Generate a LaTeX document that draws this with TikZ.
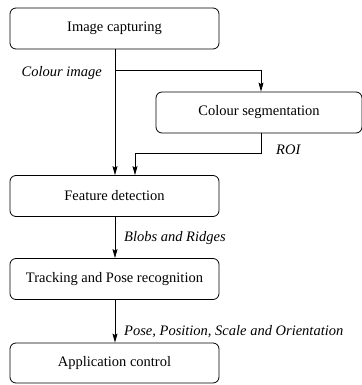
\documentclass[tikz,border=0pt]{standalone}
\usepackage{fontspec}
\setmainfont{Liberation Serif}
\usetikzlibrary{arrows.meta}
\begin{document}
\begin{tikzpicture}[x=1pt,y=-1pt,
  stepbox/.style={draw, rounded corners=6pt, minimum height=41pt, inner sep=0pt, line width=0.8pt, font=\fontsize{14.5}{17}\selectfont},
  arr/.style={line width=0.8pt, -{Stealth[length=9pt,width=5pt,inset=1.5pt]}},
  lab/.style={font=\fontsize{14.5}{17}\selectfont\itshape, inner sep=0pt}]
\useasboundingbox (0,0) rectangle (361,385);
\node[stepbox, minimum width=209pt] (ic) at (114.5,28.5) {Image capturing};
\node[stepbox, minimum width=206pt] (cs) at (259,112.5) {Colour segmentation};
\node[stepbox, minimum width=209pt] (fd) at (114.5,196) {Feature detection};
\node[stepbox, minimum width=209pt] (tp) at (114.5,279) {Tracking and Pose recognition};
\node[stepbox, minimum width=209pt, minimum height=40pt] (ac) at (114.5,363) {Application control};
\coordinate (b1) at (115,70);
\coordinate (r1) at (135,153);
\draw[arr] ([xshift=0.5pt]ic.south) -- ([xshift=0.5pt]fd.north);
\draw[arr] (b1) -| ([xshift=2pt]cs.north);
\draw[arr] ([xshift=2pt]cs.south) |- (r1) -- (r1 |- fd.north);
\draw[arr] ([xshift=0.5pt]fd.south) -- ([xshift=0.5pt]tp.north);
\draw[arr] ([xshift=0.5pt]tp.south) -- ([xshift=0.5pt]ac.north);
\node[lab, anchor=east] (l1) at (102,73) {Colour image};
\node[lab, anchor=west] (l2) at (276,150) {ROI};
\node[lab, anchor=west] (l3) at (124,238) {Blobs and Ridges};
\node[lab, anchor=west] (l4) at (124,332) {Pose, Position, Scale and Orientation};
\end{tikzpicture}
\end{document}
